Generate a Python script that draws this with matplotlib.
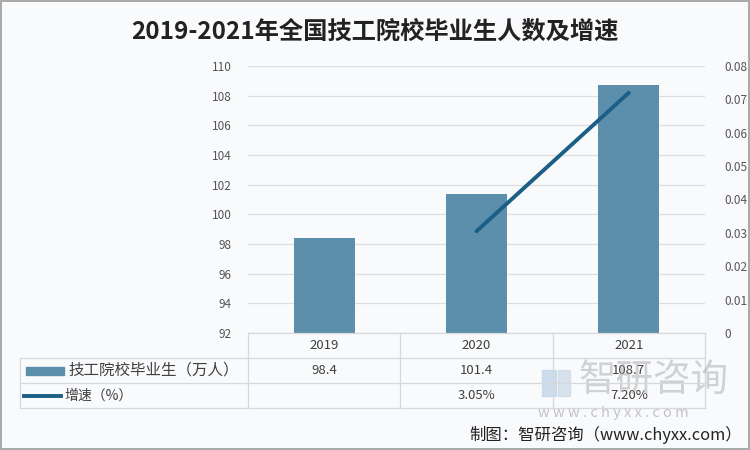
import numpy as np
import matplotlib.pyplot as plt
from matplotlib.patches import Rectangle
from matplotlib.lines import Line2D
from matplotlib.transforms import blended_transform_factory

plt.rcParams['font.family'] = ['Noto Sans CJK SC', 'DejaVu Sans']

years = ['2019', '2020', '2021']
graduates = [98.4, 101.4, 108.7]          # 万人
growth = [np.nan, 0.0305, 0.072]
growth_labels = ['', '3.05%', '7.20%']
title = '2019-2021年全国技工院校毕业生人数及增速'
bar_name = '技工院校毕业生（万人）'
line_name = '增速（%）'

bar_color = '#5b8fab'
line_color = '#1c5f86'
grid_color = '#dcdee2'
text_color = '#404040'
bg = '#f9fafc'

fig = plt.figure(figsize=(7.5, 4.5), dpi=100, facecolor=bg)
ax = fig.add_axes([248 / 750, 1 - 333 / 450, 457 / 750, 267 / 450])
ax.set_facecolor(bg)
x = np.arange(len(years))

ax.bar(x, graduates, width=0.4, color=bar_color, zorder=2)
ax.set_ylim(92, 110)
ax.set_xlim(-0.5, len(years) - 0.5)
ax.set_yticks(np.arange(92, 111, 2))
ax.yaxis.grid(True, color=grid_color, lw=0.9, zorder=0)
ax.set_xticks([])
for s in ax.spines.values():
    s.set_visible(False)
ax.tick_params(axis='y', length=0, pad=12, labelsize=8.5, labelcolor='#555555')

ax2 = ax.twinx()
ax2.plot(x, growth, color=line_color, lw=2.8, solid_capstyle='round', zorder=3)
ax2.set_ylim(0, 0.08)
ax2.set_yticks(np.arange(0, 0.081, 0.01))
ax2.set_yticklabels(['0'] + ['%.2f' % v for v in np.arange(0.01, 0.081, 0.01)])
for s in ax2.spines.values():
    s.set_visible(False)
ax2.tick_params(axis='y', length=0, pad=14, labelsize=8.5, labelcolor='#555555')

# watermark (drawn first so the table text sits on top)
ft = fig.transFigure
fig.add_artist(Rectangle((542 / 750, 1 - 396 / 450), 14 / 750, 26 / 450, transform=ft,
                         color='#bcd2e8', alpha=0.7, zorder=0))
fig.add_artist(Rectangle((558 / 750, 1 - 396 / 450), 12 / 750, 26 / 450, transform=ft,
                         color='#c9d9e8', alpha=0.7, zorder=0))
fig.text(578 / 750, 1 - 380 / 450, '智研咨询', ha='left', va='center', fontsize=27,
         color='#a0a0a0', alpha=0.45, fontweight='light', zorder=0)
fig.text(538 / 750, 1 - 413 / 450, 'w w w . c h y x x . c o m', ha='left', va='center',
         fontsize=10.5, color='#b5b5b5', alpha=0.8, zorder=0)

# data table below the plot
tr = blended_transform_factory(ax.transData, fig.transFigure)
rows_y = [333, 358, 383, 408]
ry = [1 - v / 450 for v in rows_y]
tbl_color = '#d6d8dc'
left_x = 20 / 750
ax_left = 248 / 750
ax_right = 705 / 750
fig.add_artist(Line2D([ax_left, ax_right], [ry[0]] * 2, transform=ft, color=tbl_color, lw=0.9))
for yy in ry[1:]:
    fig.add_artist(Line2D([left_x, ax_right], [yy] * 2, transform=ft, color=tbl_color, lw=0.9))
fig.add_artist(Line2D([left_x] * 2, [ry[1], ry[3]], transform=ft, color=tbl_color, lw=0.9))
for xb in np.arange(len(years) + 1) - 0.5:
    ax.plot([xb, xb], [ry[0], ry[3]], transform=tr, color=tbl_color, lw=0.9, clip_on=False)

for i, yr in enumerate(years):
    ax.text(i, (ry[0] + ry[1]) / 2, yr, transform=tr, ha='center', va='center',
            fontsize=9.5, color=text_color)
    ax.text(i, (ry[1] + ry[2]) / 2, '%.1f' % graduates[i], transform=tr, ha='center',
            va='center', fontsize=9.5, color=text_color)
    ax.text(i, (ry[2] + ry[3]) / 2, growth_labels[i], transform=tr, ha='center',
            va='center', fontsize=9.5, color=text_color)

# legend keys in the table
y1 = (ry[1] + ry[2]) / 2
y2 = (ry[2] + ry[3]) / 2
fig.add_artist(Rectangle((26 / 750, y1 - 4 / 450), 38 / 750, 8 / 450, transform=ft,
                         color=bar_color))
fig.text(68 / 750, y1, bar_name, ha='left', va='center', fontsize=11.2, color=text_color)
fig.add_artist(Line2D([24 / 750, 61 / 750], [y2, y2], transform=ft, color=line_color, lw=2.8))
fig.text(64 / 750, y2, line_name, ha='left', va='center', fontsize=10, color=text_color)

fig.text(375 / 750, 1 - 32 / 450, title, ha='center', va='center', fontsize=17.5,
         fontweight='bold', color='#222222')
fig.text(742 / 750, 1 - 435 / 450, '制图：智研咨询（www.chyxx.com）', ha='right', va='center',
         fontsize=11.8, color='#222222')

fig.patch.set_edgecolor('#aaaaaa')
fig.patch.set_linewidth(1.5)
fig.savefig('out.png', dpi=100, facecolor=bg, edgecolor='#aaaaaa')
